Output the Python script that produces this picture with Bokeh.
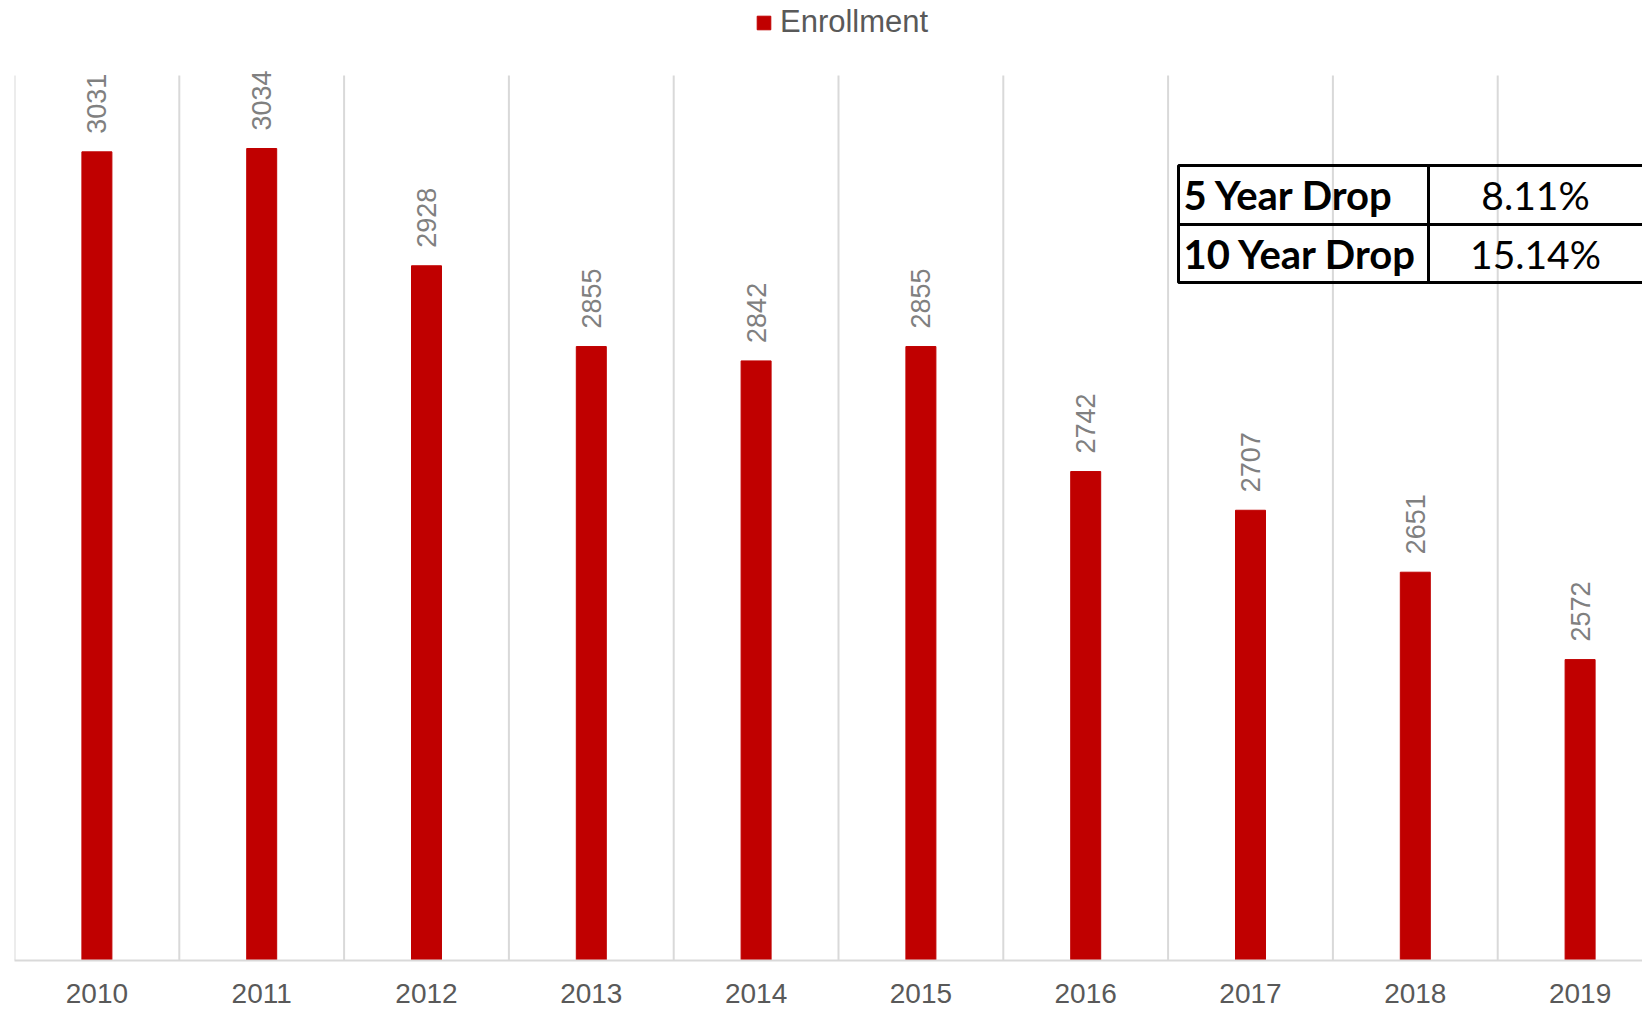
from bokeh.plotting import figure
from bokeh.models import (ColumnDataSource, Range1d, FixedTicker, Legend, LegendItem,
                          Label, BoxAnnotation)
from bokeh.core.properties import value
from bokeh.embed import file_html
from bokeh.resources import INLINE

years = ["2010", "2011", "2012", "2013", "2014", "2015", "2016", "2017", "2018", "2019"]
enrollment = [3031, 3034, 2928, 2855, 2842, 2855, 2742, 2707, 2651, 2572]
table_labels = ["5 Year Drop", "10 Year Drop"]
table_values = ["8.11%", "15.14%"]
y_min, y_max = 2300, 3100

BAR = "#C00000"
W, H = 1642, 1011
LEFT, BOTTOM = 14, 51
PLOT_TOP = 75                      # pixel row where the value axis max sits
frame_w = W - LEFT
frame_h = H - BOTTOM
cat_w = 164.8
px_per_unit = (frame_h - PLOT_TOP) / (y_max - y_min)
y_top = y_max + PLOT_TOP / px_per_unit

centers = [i + 0.5 for i in range(len(years))]
src = ColumnDataSource(dict(x=centers, top=enrollment, lab=[str(v) for v in enrollment]))

p = figure(width=W, height=H, output_backend="svg", toolbar_location=None,
           x_range=Range1d(0, frame_w / cat_w), y_range=Range1d(y_min, y_top),
           min_border_left=LEFT, min_border_right=0, min_border_top=0,
           min_border_bottom=BOTTOM)
p.outline_line_color = None
p.background_fill_color = "white"

# vertical category separators (grid)
bounds = list(range(len(years) + 1))
p.segment(x0=bounds, x1=bounds, y0=y_min, y1=y_max, line_color="#d9d9d9", line_width=2)

r = p.vbar(x="x", top="top", bottom=y_min, width=0.182, source=src, color=BAR)

p.text(x="x", y="top", text="lab", source=src, angle=1.5708, text_align="left",
       text_baseline="middle", y_offset=-18, text_font=value("Liberation Sans"),
       text_font_size="27px", text_color="#808080")

# axes
p.yaxis.visible = False
xa = p.xaxis[0]
xa.ticker = FixedTicker(ticks=centers)
xa.major_label_overrides = {c: y for c, y in zip(centers, years)}
xa.major_label_text_font = "Liberation Sans"
xa.major_label_text_font_size = "28px"
xa.major_label_text_color = "#595959"
xa.major_tick_line_color = None
xa.minor_tick_line_color = None
xa.major_label_standoff = 17
xa.axis_line_color = "#d9d9d9"
xa.axis_line_width = 2

p.xgrid.visible = False
p.ygrid.visible = False

# legend
legend = Legend(items=[LegendItem(label="Enrollment", renderers=[r])],
                location=(755 - LEFT, frame_h - 40), orientation="horizontal",
                border_line_color=None, background_fill_alpha=0,
                glyph_width=17, glyph_height=17, label_standoff=8,
                label_height=17,
                label_text_font="Liberation Sans", label_text_font_size="31px",
                label_text_color="#595959", padding=0, margin=0)
p.add_layout(legend, "center")

# table (frame-relative screen units)
t_left = 1178 - LEFT
t_mid = 1428 - LEFT
rows_y = [165, 224, 282]
for i in range(2):
    top_s = frame_h - rows_y[i]
    bot_s = frame_h - rows_y[i + 1]
    for (l, rr) in [(t_left, t_mid), (t_mid, frame_w + 3)]:
        p.add_layout(BoxAnnotation(left=l, right=rr, top=top_s, bottom=bot_s,
                                   left_units="screen", right_units="screen",
                                   top_units="screen", bottom_units="screen",
                                   fill_alpha=0, line_color="black", line_alpha=1,
                                   line_width=3))
    cy = (top_s + bot_s) / 2
    p.add_layout(Label(x=t_left + 5, y=cy, x_units="screen", y_units="screen",
                       text=table_labels[i], text_font="Lato", text_font_style="bold",
                       text_font_size="40px", text_color="black",
                       text_baseline="middle", text_align="left"))
    p.add_layout(Label(x=(t_mid + frame_w) / 2, y=cy, x_units="screen", y_units="screen",
                       text=table_values[i], text_font="Lato",
                       text_font_size="39px", text_color="black",
                       text_baseline="middle", text_align="center"))

open("out.html", "w").write(file_html(p, INLINE))
